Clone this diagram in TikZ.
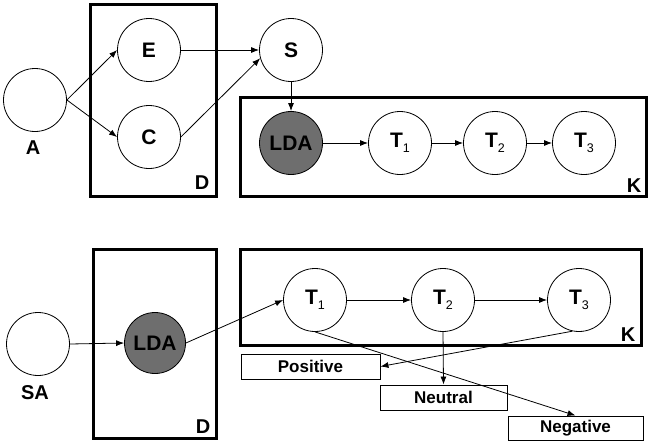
\documentclass[tikz,border=0pt]{standalone}
\usepackage{fontspec}
\setmainfont{Liberation Sans}
\usetikzlibrary{arrows.meta}
\definecolor{obsgray}{HTML}{6E6E6E}
\newcommand{\tsub}[1]{T\raisebox{-5pt}{\fontsize{12.5}{12.5}\selectfont\mdseries #1}}
\begin{document}
\begin{tikzpicture}[x=1pt,y=-1pt,
  var/.style={circle,draw,line width=0.8pt,minimum size=63pt,inner sep=0pt,fill=white,
    font=\fontsize{21}{24}\selectfont\bfseries},
  obs/.style={var,fill=obsgray},
  plate/.style={rectangle,draw,line width=2.6pt,inner sep=0pt},
  plab/.style={inner sep=0pt,font=\fontsize{20}{23}\selectfont\bfseries},
  res/.style={rectangle,draw,line width=0.9pt,inner sep=0pt,minimum height=25pt,
    font=\fontsize{17}{20}\selectfont\bfseries},
  arr/.style={-{Latex[length=8pt,width=6pt]},line width=0.8pt}]
\useasboundingbox (0,0) rectangle (652,444);
% ---------- top diagram ----------
\node[plate,minimum width=126pt,minimum height=192pt] (pD1) at (153.5,100.5) {};
\node[plate,minimum width=406pt,minimum height=99pt] (pK1) at (443.5,147) {};
\node[plab] (lD1) at (202,183) {D};
\node[plab] (lK1) at (634,186) {K};
\node[var] (A) at (35,100) {};
\node[plab] (lA) at (33,148) {A};
\node[var] (E) at (149,50) {E};
\node[var] (C) at (149,137) {C};
\node[var] (S) at (291,50) {S};
\node[obs] (L1) at (291,143) {LDA};
\node[var] (T11) at (400,143) {\tsub{1}};
\node[var] (T12) at (495,143) {\tsub{2}};
\node[var] (T13) at (584,143) {\tsub{3}};
\draw[arr] (A.east) -- (E.west);
\draw[arr] (A.east) -- (C.west);
\draw[arr] (E.east) -- (S.west);
\draw[arr] (C.east) -- (S.195);
\draw[arr] (S.south) -- (L1.north);
\draw[arr] (L1.east) -- (T11.west);
\draw[arr] (T11.east) -- (T12.west);
\draw[arr] (T12.east) -- (T13.west);
% ---------- bottom diagram ----------
\node[plate,minimum width=123pt,minimum height=189pt] (pD2) at (155,344) {};
\node[plate,minimum width=401pt,minimum height=96pt] (pK2) at (441,297.5) {};
\node[plab] (lD2) at (203,427) {D};
\node[plab] (lK2) at (628,335) {K};
\node[var] (SA) at (38,344) {};
\node[plab] (lSA) at (35,393) {SA};
\node[obs,minimum size=61pt] (L2) at (155,343) {LDA};
\node[var] (T21) at (315,300) {\tsub{1}};
\node[var] (T22) at (443,300) {\tsub{2}};
\node[var] (T23) at (579,300) {\tsub{3}};
\node[res,minimum width=139pt] (pos) at (310.5,366.5) {Positive};
\node[res,minimum width=127pt] (neu) at (443.5,397.5) {Neutral};
\node[res,minimum width=135pt,minimum height=24pt] (neg) at (575.5,428) {Negative};
\draw[arr] (SA.east) -- (L2.west);
\draw[arr] (L2.east) -- (T21.west);
\draw[arr] (T21.east) -- (T22.west);
\draw[arr] (T22.east) -- (T23.west);
\draw[arr] (T21.south) -- (neg.north);
\draw[arr] (T22.south) -- (neu.north);
\draw[arr] (T23.258) -- (pos.east);
\end{tikzpicture}
\end{document}
